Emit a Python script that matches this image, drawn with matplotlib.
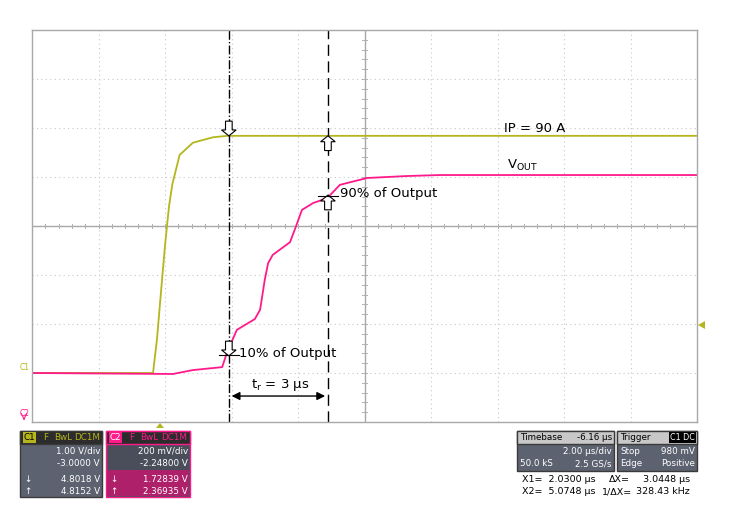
import numpy as np
import matplotlib.pyplot as plt
from matplotlib.patches import Rectangle, Polygon

W, H = 729, 515
# screen geometry of graticule (pixels)
X0, X1, Y0, Y1 = 32, 697, 30, 422

# traces, in divisions (x: 0..10, y: 0..8 from bottom)
c1_x = [0.0, 1.82, 1.88, 1.93, 2.00, 2.06, 2.11, 2.22, 2.42, 2.72, 2.93, 10.0]
c1_y = [1.0, 1.0, 1.7, 2.5, 3.6, 4.4, 4.85, 5.45, 5.7, 5.81, 5.84, 5.84]
c2_x = [0.0, 2.12, 2.42, 2.86, 2.93, 3.08, 3.35, 3.43, 3.50, 3.55, 3.62, 3.88,
        3.95, 4.06, 4.23, 4.44, 4.63, 5.04, 5.64, 6.14, 10.0]
c2_y = [1.0, 0.98, 1.06, 1.12, 1.41, 1.88, 2.1, 2.29, 2.9, 3.24, 3.41, 3.67,
        3.92, 4.33, 4.47, 4.57, 4.84, 4.98, 5.02, 5.04, 5.04]
cursor1, cursor2 = 2.96, 4.45

YEL = '#b5b51c'
PINK = '#ff1a8c'

fig = plt.figure(figsize=(W / 100, H / 100), dpi=100)
ax = fig.add_axes([X0 / W, 1 - Y1 / H, (X1 - X0) / W, (Y1 - Y0) / H])
ax.set_xlim(0, 10)
ax.set_ylim(0, 8)
for s in ax.spines.values():
    s.set_color('#a8a8a8')
    s.set_linewidth(1)
ax.set_xticks([])
ax.set_yticks([])
for i in range(1, 10):
    ax.axvline(i, color='#c8c8c8', lw=0.8, ls=(0, (1, 3)))
for j in range(1, 8):
    ax.axhline(j, color='#c8c8c8', lw=0.8, ls=(0, (1, 3)))
ax.axvline(5, color='#a8a8a8', lw=1)
ax.axhline(4, color='#a8a8a8', lw=1)
for t in np.arange(0, 10.01, 0.2):
    ax.plot([t, t], [3.95, 4.05], color='#b0b0b0', lw=0.7)
for t in np.arange(0, 8.01, 0.2):
    ax.plot([4.96, 5.04], [t, t], color='#b0b0b0', lw=0.7)

ax.plot(c1_x, c1_y, color=YEL, lw=1.3)
ax.plot(c2_x, c2_y, color=PINK, lw=1.3)

ax.axvline(cursor1, color='black', lw=1, ls='-.')
ax.axvline(cursor2, color='black', lw=1, ls=(0, (8, 4)))

def hollow_arrow(x, ytip, up):
    d = 1 if up else -1
    w, hw, hl, L = 0.05, 0.11, 0.12, 0.3
    pts = [(x, ytip), (x + hw, ytip - d * hl), (x + w, ytip - d * hl),
           (x + w, ytip - d * L), (x - w, ytip - d * L), (x - w, ytip - d * hl),
           (x - hw, ytip - d * hl)]
    ax.add_patch(Polygon(pts, closed=True, fc='white', ec='black', lw=0.8, zorder=5))

hollow_arrow(cursor1, 5.84, up=False)
hollow_arrow(cursor2, 5.84, up=True)
hollow_arrow(cursor1, 1.35, up=False)
hollow_arrow(cursor2, 4.63, up=True)
ax.plot([cursor1 - 0.15, cursor1 + 0.15], [1.37, 1.37], color='black', lw=0.8, zorder=6)
ax.plot([cursor2 - 0.15, cursor2 + 0.15], [4.61, 4.61], color='black', lw=0.8, zorder=6)

ax.annotate('', xy=(cursor1, 0.53), xytext=(cursor2, 0.53),
            arrowprops=dict(arrowstyle='<|-|>', color='black', lw=1, mutation_scale=12))
ax.text(3.73, 0.75, r'$\mathregular{t_r}$ = 3 µs', ha='center', va='center', fontsize=9.5)
ax.text(3.12, 1.4, '10% of Output', ha='left', va='center', fontsize=9.5)
ax.text(4.63, 4.67, '90% of Output', ha='left', va='center', fontsize=9.5)
ax.text(7.1, 5.98, 'IP = 90 A', ha='left', va='center', fontsize=9.5)
ax.text(7.15, 5.23, r'V$\mathregular{_{OUT}}$', ha='left', va='center', fontsize=9.5)

# overlay in pixel coordinates
ov = fig.add_axes([0, 0, 1, 1])
ov.set_xlim(0, W)
ov.set_ylim(H, 0)
ov.axis('off')
ov.text(20, 368, 'C1', color=YEL, fontsize=5.5, va='center')
ov.text(20, 413, 'C2', color=PINK, fontsize=5.5, va='center')
ov.annotate('', xy=(24, 423), xytext=(24, 416), arrowprops=dict(arrowstyle='->', color=PINK, lw=0.8))
ov.add_patch(Polygon([(698, 325), (705, 321), (705, 329)], fc=YEL, ec='none'))
ov.add_patch(Polygon([(160, 423), (156, 428), (164, 428)], fc=YEL, ec='none'))

def panel(x, y, w, h, fc, ec):
    ov.add_patch(Rectangle((x, y), w, h, fc=fc, ec=ec, lw=1))

fs = 6.3
panel(20, 431, 82, 66, '#5d6270', '#3a3a3a')
panel(20, 431, 82, 13, '#2c2c2c', '#3a3a3a')
ov.text(24, 437.5, 'C1', color='black', fontsize=fs, va='center',
        bbox=dict(fc=YEL, ec='none', pad=0.5))
ov.text(43, 437.5, 'F', color=YEL, fontsize=fs, va='center')
ov.text(54, 437.5, 'BwL', color=YEL, fontsize=fs, va='center')
ov.text(74, 437.5, 'DC1M', color=YEL, fontsize=fs, va='center')
for yy, s in [(451, '1.00 V/div'), (463, '-3.0000 V'), (479, '4.8018 V'), (491, '4.8152 V')]:
    ov.text(100, yy, s, color='white', fontsize=fs, ha='right', va='center')
ov.text(24, 479, '↓', color='white', fontsize=fs, va='center')
ov.text(24, 491, '↑', color='white', fontsize=fs, va='center')

panel(106, 431, 84, 66, '#4a4d5a', PINK)
ov.add_patch(Rectangle((107, 470), 82, 26, fc='#c0186e', ec='none', alpha=0.85))
panel(106, 431, 84, 13, '#2c2c2c', PINK)
ov.text(110, 437.5, 'C2', color='white', fontsize=fs, va='center',
        bbox=dict(fc=PINK, ec='none', pad=0.5))
ov.text(129, 437.5, 'F', color=PINK, fontsize=fs, va='center')
ov.text(140, 437.5, 'BwL', color=PINK, fontsize=fs, va='center')
ov.text(161, 437.5, 'DC1M', color=PINK, fontsize=fs, va='center')
for yy, s in [(451, '200 mV/div'), (463, '-2.24800 V'), (479, '1.72839 V'), (491, '2.36935 V')]:
    ov.text(188, yy, s, color='white', fontsize=fs, ha='right', va='center')
ov.text(110, 479, '↓', color='white', fontsize=fs, va='center')
ov.text(110, 491, '↑', color='white', fontsize=fs, va='center')

panel(517, 431, 97, 40, '#5d6270', '#3a3a3a')
ov.add_patch(Rectangle((517, 431), 97, 13, fc='#c8c8c8', ec='#3a3a3a'))
ov.text(520, 437.5, 'Timebase', color='black', fontsize=fs, va='center')
ov.text(612, 437.5, '-6.16 µs', color='black', fontsize=fs, va='center', ha='right')
ov.text(612, 451, '2.00 µs/div', color='white', fontsize=fs, va='center', ha='right')
ov.text(520, 464, '50.0 kS', color='white', fontsize=fs, va='center')
ov.text(612, 464, '2.5 GS/s', color='white', fontsize=fs, va='center', ha='right')

panel(617, 431, 80, 40, '#5d6270', '#3a3a3a')
ov.add_patch(Rectangle((617, 431), 80, 13, fc='#c8c8c8', ec='#3a3a3a'))
ov.text(620, 437.5, 'Trigger', color='black', fontsize=fs, va='center')
ov.text(695, 437.5, 'C1 DC', color='white', fontsize=fs - 0.5, va='center', ha='right',
        bbox=dict(fc='black', ec='none', pad=0.5))
ov.text(620, 451, 'Stop', color='white', fontsize=fs, va='center')
ov.text(695, 451, '980 mV', color='white', fontsize=fs, va='center', ha='right')
ov.text(620, 464, 'Edge', color='white', fontsize=fs, va='center')
ov.text(695, 464, 'Positive', color='white', fontsize=fs, va='center', ha='right')

ov.text(522, 479, 'X1=  2.0300 µs', fontsize=fs + 0.5, va='center')
ov.text(522, 492, 'X2=  5.0748 µs', fontsize=fs + 0.5, va='center')
ov.text(609, 479, 'ΔX=', fontsize=fs + 0.5, va='center')
ov.text(602, 492, '1/ΔX=', fontsize=fs + 0.5, va='center')
ov.text(690, 479, '3.0448 µs', fontsize=fs + 0.5, va='center', ha='right')
ov.text(690, 492, '328.43 kHz', fontsize=fs + 0.5, va='center', ha='right')

fig.savefig('out.png', dpi=100)
